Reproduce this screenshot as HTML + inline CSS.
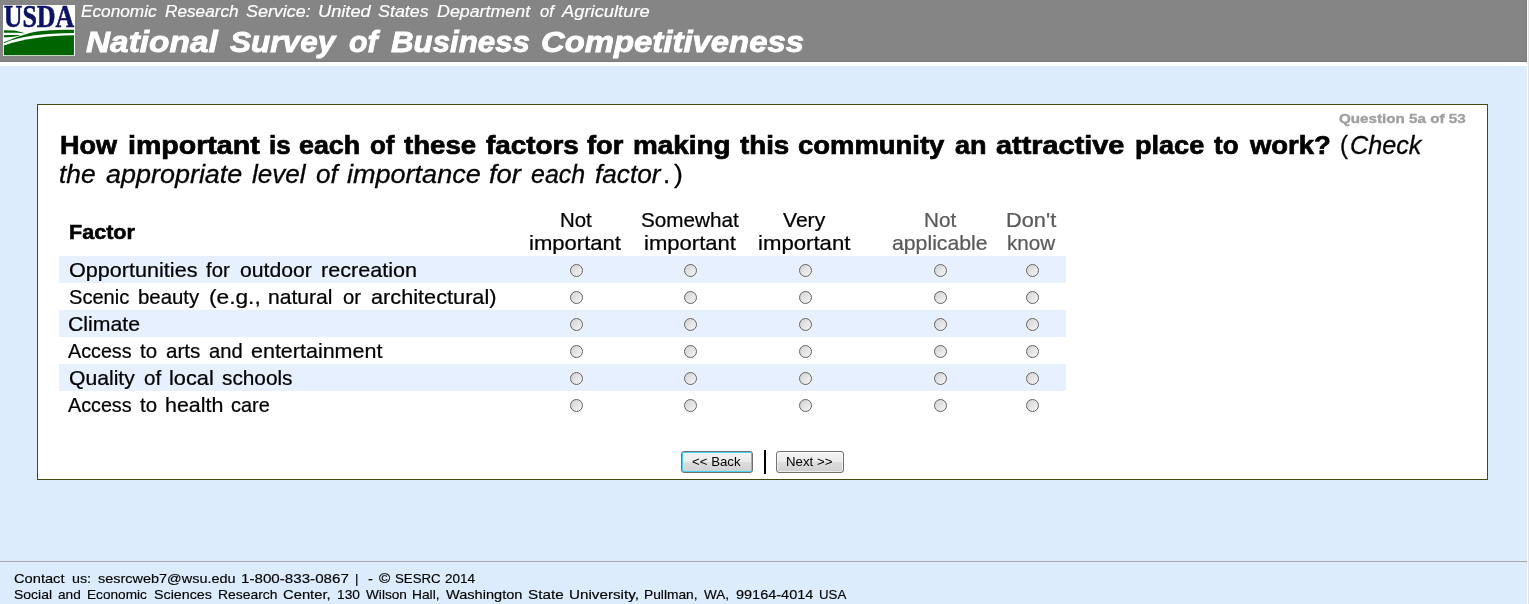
<!DOCTYPE html>
<html><head><meta charset="utf-8"><title>National Survey of Business Competitiveness</title>
<style>
html,body{margin:0;padding:0;}
body{width:1529px;height:604px;overflow:hidden;position:relative;background:#ddecfc;font-family:"Liberation Sans",sans-serif;color:#000;}
.a{position:absolute;}
.t{position:absolute;white-space:pre;transform-origin:0 0;display:block;}
#hdr{left:0;top:0;width:1526px;height:61px;background:#858585;border-right:1px solid #7a7a7a;border-bottom:1px solid #7a7a7a;}
#strip{left:0;top:62px;width:1527px;height:4px;background:#fff;}
#redge{left:1527px;top:0;width:1px;height:604px;background:#fff;border-right:1px solid #e2e2e2;}
#box{left:37px;top:104px;width:1449px;height:374px;background:#fff;border:1px solid #3d4f0a;}
.row{left:59px;width:1007px;height:27px;background:#e6f0ff;}
.r{position:absolute;width:11px;height:11px;border:1px solid #626262;border-radius:50%;box-shadow:0 0 0 1px rgba(255,255,255,.3);background:linear-gradient(135deg,#d6d6d6 10%,#f2f2f2 90%);}
.btn{position:absolute;top:451px;height:20px;border:1px solid #707070;border-radius:3px;background:linear-gradient(#f3f3f3 0%,#ebebeb 48%,#dddddd 52%,#cfcfcf 100%);box-shadow:inset 0 0 0 1px rgba(255,255,255,.55);}
#back{left:681px;width:70px;border-color:#707070;box-shadow:inset 0 0 0 1px #3fd4f8;}
#next{left:776px;width:66px;}
#sep{left:763.5px;top:450px;width:2px;height:24px;background:#000;}
#fline{left:0;top:561px;width:1527px;height:1px;background:#a9a9a9;}
</style></head><body>
<div class="a" id="hdr"></div>
<div class="a" id="strip"></div>
<div class="a" id="redge"></div>
<svg class="a" style="left:3px;top:5px;will-change:transform" width="72" height="51" viewBox="0 0 72 51">
<rect x="0" y="0" width="72" height="51" fill="#fff"/>
<text x="0.7" y="22.1" font-family="Liberation Serif, serif" font-weight="bold" font-size="32.3" fill="#0c1264" stroke="#0c1264" stroke-width="0.55" textLength="70.6" lengthAdjust="spacingAndGlyphs">USDA</text>
<g transform="translate(-3 -3) scale(0.09606)" fill="#006400">
<path d="M40,452 C250,380 500,348 770,345 L770,555 L40,555 Z"/>
<path d="M40,430 C200,352 450,326 770,322 L770,290 C520,290 370,303 270,335 C190,358 110,390 40,418 Z"/>
<path d="M40,295 L150,297 C200,305 240,318 262,326 C200,322 100,320 40,320 Z"/>
<path d="M40,345 C100,343 160,343 215,345 C180,355 150,362 40,368 Z"/>
</g>
</svg>
<div class="a" id="box"></div>
<div class="a row" style="top:256px"></div>
<div class="r" style="left:570px;top:264px"></div>
<div class="r" style="left:684px;top:264px"></div>
<div class="r" style="left:799px;top:264px"></div>
<div class="r" style="left:934px;top:264px"></div>
<div class="r" style="left:1026px;top:264px"></div>
<div class="r" style="left:570px;top:291px"></div>
<div class="r" style="left:684px;top:291px"></div>
<div class="r" style="left:799px;top:291px"></div>
<div class="r" style="left:934px;top:291px"></div>
<div class="r" style="left:1026px;top:291px"></div>
<div class="a row" style="top:310px"></div>
<div class="r" style="left:570px;top:318px"></div>
<div class="r" style="left:684px;top:318px"></div>
<div class="r" style="left:799px;top:318px"></div>
<div class="r" style="left:934px;top:318px"></div>
<div class="r" style="left:1026px;top:318px"></div>
<div class="r" style="left:570px;top:345px"></div>
<div class="r" style="left:684px;top:345px"></div>
<div class="r" style="left:799px;top:345px"></div>
<div class="r" style="left:934px;top:345px"></div>
<div class="r" style="left:1026px;top:345px"></div>
<div class="a row" style="top:364px"></div>
<div class="r" style="left:570px;top:372px"></div>
<div class="r" style="left:684px;top:372px"></div>
<div class="r" style="left:799px;top:372px"></div>
<div class="r" style="left:934px;top:372px"></div>
<div class="r" style="left:1026px;top:372px"></div>
<div class="r" style="left:570px;top:399px"></div>
<div class="r" style="left:684px;top:399px"></div>
<div class="r" style="left:799px;top:399px"></div>
<div class="r" style="left:934px;top:399px"></div>
<div class="r" style="left:1026px;top:399px"></div>
<div class="btn" id="back"></div>
<div class="btn" id="next"></div>
<div class="a" id="sep"></div>
<div class="a" id="fline"></div>
<div id="tx" style="position:absolute;left:0;top:0;width:1529px;height:604px;will-change:transform">
<span class="t" style="left:81.00px;top:4.00px;font-size:16.72px;line-height:16.72px;transform:scaleX(1.0313);font-style:italic;color:#fff;-webkit-text-stroke:0.20px;">Economic</span>
<span class="t" style="left:165.40px;top:4.00px;font-size:16.72px;line-height:16.72px;transform:scaleX(1.0295);font-style:italic;color:#fff;-webkit-text-stroke:0.20px;">Research</span>
<span class="t" style="left:246.40px;top:4.00px;font-size:16.72px;line-height:16.72px;transform:scaleX(1.0721);font-style:italic;color:#fff;-webkit-text-stroke:0.20px;">Service:</span>
<span class="t" style="left:317.71px;top:4.00px;font-size:16.72px;line-height:16.72px;transform:scaleX(1.0918);font-style:italic;color:#fff;-webkit-text-stroke:0.20px;">United</span>
<span class="t" style="left:378.30px;top:4.00px;font-size:16.72px;line-height:16.72px;transform:scaleX(1.0708);font-style:italic;color:#fff;-webkit-text-stroke:0.20px;">States</span>
<span class="t" style="left:437.10px;top:4.00px;font-size:16.72px;line-height:16.72px;transform:scaleX(1.0674);font-style:italic;color:#fff;-webkit-text-stroke:0.20px;">Department</span>
<span class="t" style="left:540.39px;top:4.00px;font-size:16.72px;line-height:16.72px;transform:scaleX(0.9898);font-style:italic;color:#fff;-webkit-text-stroke:0.20px;">of</span>
<span class="t" style="left:562.40px;top:4.00px;font-size:16.72px;line-height:16.72px;transform:scaleX(1.0987);font-style:italic;color:#fff;-webkit-text-stroke:0.20px;">Agriculture</span>
<span class="t" style="left:86.32px;top:27.00px;font-size:30.1px;line-height:30.1px;transform:scaleX(1.1098);font-weight:bold;font-style:italic;color:#fff;-webkit-text-stroke:0.84px;">National</span>
<span class="t" style="left:230.02px;top:27.00px;font-size:30.1px;line-height:30.1px;transform:scaleX(1.0484);font-weight:bold;font-style:italic;color:#fff;-webkit-text-stroke:0.84px;">Survey</span>
<span class="t" style="left:349.32px;top:27.00px;font-size:30.1px;line-height:30.1px;transform:scaleX(1.0088);font-weight:bold;font-style:italic;color:#fff;-webkit-text-stroke:0.84px;">of</span>
<span class="t" style="left:390.52px;top:27.00px;font-size:30.1px;line-height:30.1px;transform:scaleX(1.0382);font-weight:bold;font-style:italic;color:#fff;-webkit-text-stroke:0.84px;">Business</span>
<span class="t" style="left:540.53px;top:27.00px;font-size:30.1px;line-height:30.1px;transform:scaleX(1.0919);font-weight:bold;font-style:italic;color:#fff;-webkit-text-stroke:0.84px;">Competitiveness</span>
<span class="t" style="left:1339.49px;top:112.00px;font-size:13.38px;line-height:13.38px;transform:scaleX(1.1367);font-weight:bold;color:#a0a0a0;-webkit-text-stroke:0.37px;">Question 5a of 53</span>
<span class="t" style="left:59.97px;top:133.00px;font-size:25.08px;line-height:25.08px;transform:scaleX(1.0776);font-weight:bold;-webkit-text-stroke:0.70px;">How</span>
<span class="t" style="left:127.51px;top:133.00px;font-size:25.08px;line-height:25.08px;transform:scaleX(1.1389);font-weight:bold;-webkit-text-stroke:0.70px;">important</span>
<span class="t" style="left:268.72px;top:133.00px;font-size:25.08px;line-height:25.08px;transform:scaleX(1.0335);font-weight:bold;-webkit-text-stroke:0.70px;">is</span>
<span class="t" style="left:299.15px;top:133.00px;font-size:25.08px;line-height:25.08px;transform:scaleX(1.0708);font-weight:bold;-webkit-text-stroke:0.70px;">each</span>
<span class="t" style="left:370.03px;top:133.00px;font-size:25.08px;line-height:25.08px;transform:scaleX(1.0335);font-weight:bold;-webkit-text-stroke:0.70px;">of</span>
<span class="t" style="left:404.05px;top:133.00px;font-size:25.08px;line-height:25.08px;transform:scaleX(1.1012);font-weight:bold;-webkit-text-stroke:0.70px;">these</span>
<span class="t" style="left:485.85px;top:133.00px;font-size:25.08px;line-height:25.08px;transform:scaleX(1.1103);font-weight:bold;-webkit-text-stroke:0.70px;">factors</span>
<span class="t" style="left:586.95px;top:133.00px;font-size:25.08px;line-height:25.08px;transform:scaleX(1.0870);font-weight:bold;-webkit-text-stroke:0.70px;">for</span>
<span class="t" style="left:632.74px;top:133.00px;font-size:25.08px;line-height:25.08px;transform:scaleX(1.1102);font-weight:bold;-webkit-text-stroke:0.70px;">making</span>
<span class="t" style="left:739.95px;top:133.00px;font-size:25.08px;line-height:25.08px;transform:scaleX(1.1045);font-weight:bold;-webkit-text-stroke:0.70px;">this</span>
<span class="t" style="left:798.15px;top:133.00px;font-size:25.08px;line-height:25.08px;transform:scaleX(1.0940);font-weight:bold;-webkit-text-stroke:0.70px;">community</span>
<span class="t" style="left:955.05px;top:133.00px;font-size:25.08px;line-height:25.08px;transform:scaleX(1.0769);font-weight:bold;-webkit-text-stroke:0.70px;">an</span>
<span class="t" style="left:996.45px;top:133.00px;font-size:25.08px;line-height:25.08px;transform:scaleX(1.1517);font-weight:bold;-webkit-text-stroke:0.70px;">attractive</span>
<span class="t" style="left:1134.77px;top:133.00px;font-size:25.08px;line-height:25.08px;transform:scaleX(1.0794);font-weight:bold;-webkit-text-stroke:0.70px;">place</span>
<span class="t" style="left:1213.98px;top:133.00px;font-size:25.08px;line-height:25.08px;transform:scaleX(1.0335);font-weight:bold;-webkit-text-stroke:0.70px;">to</span>
<span class="t" style="left:1250.14px;top:133.00px;font-size:25.08px;line-height:25.08px;transform:scaleX(1.0934);font-weight:bold;-webkit-text-stroke:0.70px;">work?</span>
<span class="t" style="left:1339.62px;top:133.00px;font-size:25.08px;line-height:25.08px;transform:scaleX(0.9558);-webkit-text-stroke:0.30px;">(</span>
<span class="t" style="left:1350.35px;top:133.00px;font-size:25.08px;line-height:25.08px;transform:scaleX(1.0050);font-style:italic;-webkit-text-stroke:0.30px;">Check</span>
<span class="t" style="left:59.10px;top:162.00px;font-size:25.08px;line-height:25.08px;transform:scaleX(1.0526);font-style:italic;-webkit-text-stroke:0.30px;">the</span>
<span class="t" style="left:105.55px;top:162.00px;font-size:25.08px;line-height:25.08px;transform:scaleX(1.0746);font-style:italic;-webkit-text-stroke:0.30px;">appropriate</span>
<span class="t" style="left:251.65px;top:162.00px;font-size:25.08px;line-height:25.08px;transform:scaleX(1.0395);font-style:italic;-webkit-text-stroke:0.30px;">level</span>
<span class="t" style="left:315.65px;top:162.00px;font-size:25.08px;line-height:25.08px;transform:scaleX(1.0397);font-style:italic;-webkit-text-stroke:0.30px;">of</span>
<span class="t" style="left:346.55px;top:162.00px;font-size:25.08px;line-height:25.08px;transform:scaleX(1.0781);font-style:italic;-webkit-text-stroke:0.30px;">importance</span>
<span class="t" style="left:489.45px;top:162.00px;font-size:25.08px;line-height:25.08px;transform:scaleX(1.0901);font-style:italic;-webkit-text-stroke:0.30px;">for</span>
<span class="t" style="left:531.15px;top:162.00px;font-size:25.08px;line-height:25.08px;transform:scaleX(0.9956);font-style:italic;-webkit-text-stroke:0.30px;">each</span>
<span class="t" style="left:594.55px;top:162.00px;font-size:25.08px;line-height:25.08px;transform:scaleX(1.0440);font-style:italic;-webkit-text-stroke:0.30px;">factor</span>
<span class="t" style="left:663.38px;top:162.00px;font-size:25.08px;line-height:25.08px;transform:scaleX(1.0330);-webkit-text-stroke:0.30px;">.</span>
<span class="t" style="left:673.95px;top:162.00px;font-size:25.08px;line-height:25.08px;transform:scaleX(1.0570);-webkit-text-stroke:0.30px;">)</span>
<span class="t" style="left:68.51px;top:222.00px;font-size:20.06px;line-height:20.06px;transform:scaleX(1.0756);font-weight:bold;-webkit-text-stroke:0.56px;">Factor</span>
<span class="t" style="left:559.80px;top:210.00px;font-size:20.06px;line-height:20.06px;transform:scaleX(1.0174);-webkit-text-stroke:0.24px;">Not</span>
<span class="t" style="left:529.32px;top:233.00px;font-size:20.06px;line-height:20.06px;transform:scaleX(1.1008);-webkit-text-stroke:0.24px;">important</span>
<span class="t" style="left:641.42px;top:210.00px;font-size:20.06px;line-height:20.06px;transform:scaleX(1.0317);-webkit-text-stroke:0.24px;">Somewhat</span>
<span class="t" style="left:643.72px;top:233.00px;font-size:20.06px;line-height:20.06px;transform:scaleX(1.1008);-webkit-text-stroke:0.24px;">important</span>
<span class="t" style="left:783.32px;top:210.00px;font-size:20.06px;line-height:20.06px;transform:scaleX(1.0516);-webkit-text-stroke:0.24px;">Very</span>
<span class="t" style="left:758.21px;top:233.00px;font-size:20.06px;line-height:20.06px;transform:scaleX(1.1056);-webkit-text-stroke:0.24px;">important</span>
<span class="t" style="left:923.79px;top:210.00px;font-size:20.06px;line-height:20.06px;transform:scaleX(1.0305);color:#5a5a5a;-webkit-text-stroke:0.24px;">Not</span>
<span class="t" style="left:892.12px;top:233.00px;font-size:20.06px;line-height:20.06px;transform:scaleX(1.0591);color:#5a5a5a;-webkit-text-stroke:0.24px;">applicable</span>
<span class="t" style="left:1006.33px;top:210.00px;font-size:20.06px;line-height:20.06px;transform:scaleX(1.0868);color:#5a5a5a;-webkit-text-stroke:0.24px;">Don&#x27;t</span>
<span class="t" style="left:1006.89px;top:233.00px;font-size:20.06px;line-height:20.06px;transform:scaleX(1.0289);color:#5a5a5a;-webkit-text-stroke:0.24px;">know</span>
<span class="t" style="left:68.72px;top:260.00px;font-size:20.06px;line-height:20.06px;transform:scaleX(1.0776);-webkit-text-stroke:0.24px;">Opportunities</span>
<span class="t" style="left:206.12px;top:260.00px;font-size:20.06px;line-height:20.06px;transform:scaleX(1.0144);-webkit-text-stroke:0.24px;">for</span>
<span class="t" style="left:239.82px;top:260.00px;font-size:20.06px;line-height:20.06px;transform:scaleX(1.0563);-webkit-text-stroke:0.24px;">outdoor</span>
<span class="t" style="left:320.84px;top:260.00px;font-size:20.06px;line-height:20.06px;transform:scaleX(1.0778);-webkit-text-stroke:0.24px;">recreation</span>
<span class="t" style="left:68.72px;top:287.00px;font-size:20.06px;line-height:20.06px;transform:scaleX(1.0019);-webkit-text-stroke:0.24px;">Scenic</span>
<span class="t" style="left:137.60px;top:287.00px;font-size:20.06px;line-height:20.06px;transform:scaleX(1.0168);-webkit-text-stroke:0.24px;">beauty</span>
<span class="t" style="left:209.46px;top:287.00px;font-size:20.06px;line-height:20.06px;transform:scaleX(1.1323);-webkit-text-stroke:0.24px;">(e.g.,</span>
<span class="t" style="left:268.27px;top:287.00px;font-size:20.06px;line-height:20.06px;transform:scaleX(1.0521);-webkit-text-stroke:0.24px;">natural</span>
<span class="t" style="left:343.12px;top:287.00px;font-size:20.06px;line-height:20.06px;transform:scaleX(1.0116);-webkit-text-stroke:0.24px;">or</span>
<span class="t" style="left:370.52px;top:287.00px;font-size:20.06px;line-height:20.06px;transform:scaleX(1.0831);-webkit-text-stroke:0.24px;">architectural)</span>
<span class="t" style="left:67.56px;top:314.00px;font-size:20.06px;line-height:20.06px;transform:scaleX(1.0607);-webkit-text-stroke:0.24px;">Climate</span>
<span class="t" style="left:68.07px;top:341.00px;font-size:20.06px;line-height:20.06px;transform:scaleX(0.9842);-webkit-text-stroke:0.24px;">Access</span>
<span class="t" style="left:139.72px;top:341.00px;font-size:20.06px;line-height:20.06px;transform:scaleX(1.0175);-webkit-text-stroke:0.24px;">to</span>
<span class="t" style="left:165.72px;top:341.00px;font-size:20.06px;line-height:20.06px;transform:scaleX(1.0259);-webkit-text-stroke:0.24px;">arts</span>
<span class="t" style="left:208.62px;top:341.00px;font-size:20.06px;line-height:20.06px;transform:scaleX(1.0050);-webkit-text-stroke:0.24px;">and</span>
<span class="t" style="left:250.92px;top:341.00px;font-size:20.06px;line-height:20.06px;transform:scaleX(1.0719);-webkit-text-stroke:0.24px;">entertainment</span>
<span class="t" style="left:68.62px;top:368.00px;font-size:20.06px;line-height:20.06px;transform:scaleX(1.0544);-webkit-text-stroke:0.24px;">Quality</span>
<span class="t" style="left:143.52px;top:368.00px;font-size:20.06px;line-height:20.06px;transform:scaleX(1.0239);-webkit-text-stroke:0.24px;">of</span>
<span class="t" style="left:168.64px;top:368.00px;font-size:20.06px;line-height:20.06px;transform:scaleX(1.0851);-webkit-text-stroke:0.24px;">local</span>
<span class="t" style="left:221.82px;top:368.00px;font-size:20.06px;line-height:20.06px;transform:scaleX(1.0370);-webkit-text-stroke:0.24px;">schools</span>
<span class="t" style="left:68.07px;top:395.00px;font-size:20.06px;line-height:20.06px;transform:scaleX(0.9842);-webkit-text-stroke:0.24px;">Access</span>
<span class="t" style="left:139.72px;top:395.00px;font-size:20.06px;line-height:20.06px;transform:scaleX(1.0175);-webkit-text-stroke:0.24px;">to</span>
<span class="t" style="left:164.65px;top:395.00px;font-size:20.06px;line-height:20.06px;transform:scaleX(1.0684);-webkit-text-stroke:0.24px;">health</span>
<span class="t" style="left:231.32px;top:395.00px;font-size:20.06px;line-height:20.06px;transform:scaleX(0.9951);-webkit-text-stroke:0.24px;">care</span>
<span class="t" style="left:692.30px;top:455.00px;font-size:13.33px;line-height:13.33px;transform:scaleX(0.9932);">&lt;&lt; Back</span>
<span class="t" style="left:785.80px;top:455.00px;font-size:13.33px;line-height:13.33px;transform:scaleX(0.9958);">Next &gt;&gt;</span>
<span class="t" style="left:13.98px;top:572.00px;font-size:13.38px;line-height:13.38px;transform:scaleX(1.0962);-webkit-text-stroke:0.16px;">Contact</span>
<span class="t" style="left:72.48px;top:572.00px;font-size:13.38px;line-height:13.38px;transform:scaleX(1.0650);-webkit-text-stroke:0.16px;">us:</span>
<span class="t" style="left:97.78px;top:572.00px;font-size:13.38px;line-height:13.38px;transform:scaleX(1.0808);-webkit-text-stroke:0.16px;">sesrcweb7@wsu.edu</span>
<span class="t" style="left:241.05px;top:572.00px;font-size:13.38px;line-height:13.38px;transform:scaleX(1.1333);-webkit-text-stroke:0.16px;">1-800-833-0867</span>
<span class="t" style="left:355.32px;top:572.00px;font-size:13.38px;line-height:13.38px;transform:scaleX(0.9917);-webkit-text-stroke:0.16px;">|</span>
<span class="t" style="left:367.58px;top:572.00px;font-size:13.38px;line-height:13.38px;transform:scaleX(1.0849);-webkit-text-stroke:0.16px;">-</span>
<span class="t" style="left:379.30px;top:572.00px;font-size:13.38px;line-height:13.38px;transform:scaleX(1.1410);-webkit-text-stroke:0.16px;">©</span>
<span class="t" style="left:394.78px;top:572.00px;font-size:13.38px;line-height:13.38px;transform:scaleX(0.9917);-webkit-text-stroke:0.16px;">SESRC</span>
<span class="t" style="left:445.28px;top:572.00px;font-size:13.38px;line-height:13.38px;transform:scaleX(1.0107);-webkit-text-stroke:0.16px;">2014</span>
<span class="t" style="left:13.98px;top:588.00px;font-size:13.38px;line-height:13.38px;transform:scaleX(1.0461);-webkit-text-stroke:0.16px;">Social</span>
<span class="t" style="left:58.18px;top:588.00px;font-size:13.38px;line-height:13.38px;transform:scaleX(1.0211);-webkit-text-stroke:0.16px;">and</span>
<span class="t" style="left:86.56px;top:588.00px;font-size:13.38px;line-height:13.38px;transform:scaleX(1.0207);-webkit-text-stroke:0.16px;">Economic</span>
<span class="t" style="left:153.88px;top:588.00px;font-size:13.38px;line-height:13.38px;transform:scaleX(1.0652);-webkit-text-stroke:0.16px;">Sciences</span>
<span class="t" style="left:217.64px;top:588.00px;font-size:13.38px;line-height:13.38px;transform:scaleX(1.0401);-webkit-text-stroke:0.16px;">Research</span>
<span class="t" style="left:282.88px;top:588.00px;font-size:13.38px;line-height:13.38px;transform:scaleX(1.1045);-webkit-text-stroke:0.16px;">Center,</span>
<span class="t" style="left:336.75px;top:588.00px;font-size:13.38px;line-height:13.38px;transform:scaleX(1.0269);-webkit-text-stroke:0.16px;">130</span>
<span class="t" style="left:366.18px;top:588.00px;font-size:13.38px;line-height:13.38px;transform:scaleX(1.0188);-webkit-text-stroke:0.16px;">Wilson</span>
<span class="t" style="left:412.25px;top:588.00px;font-size:13.38px;line-height:13.38px;transform:scaleX(1.0279);-webkit-text-stroke:0.16px;">Hall,</span>
<span class="t" style="left:446.08px;top:588.00px;font-size:13.38px;line-height:13.38px;transform:scaleX(1.0896);-webkit-text-stroke:0.16px;">Washington</span>
<span class="t" style="left:528.08px;top:588.00px;font-size:13.38px;line-height:13.38px;transform:scaleX(1.1410);-webkit-text-stroke:0.16px;">State</span>
<span class="t" style="left:569.24px;top:588.00px;font-size:13.38px;line-height:13.38px;transform:scaleX(1.1377);-webkit-text-stroke:0.16px;">University,</span>
<span class="t" style="left:644.25px;top:588.00px;font-size:13.38px;line-height:13.38px;transform:scaleX(1.0302);-webkit-text-stroke:0.16px;">Pullman,</span>
<span class="t" style="left:704.18px;top:588.00px;font-size:13.38px;line-height:13.38px;transform:scaleX(1.0121);-webkit-text-stroke:0.16px;">WA,</span>
<span class="t" style="left:735.98px;top:588.00px;font-size:13.38px;line-height:13.38px;transform:scaleX(1.0831);-webkit-text-stroke:0.16px;">99164-4014</span>
<span class="t" style="left:818.68px;top:588.00px;font-size:13.38px;line-height:13.38px;transform:scaleX(0.9917);-webkit-text-stroke:0.16px;">USA</span>
</div>
</body></html>
